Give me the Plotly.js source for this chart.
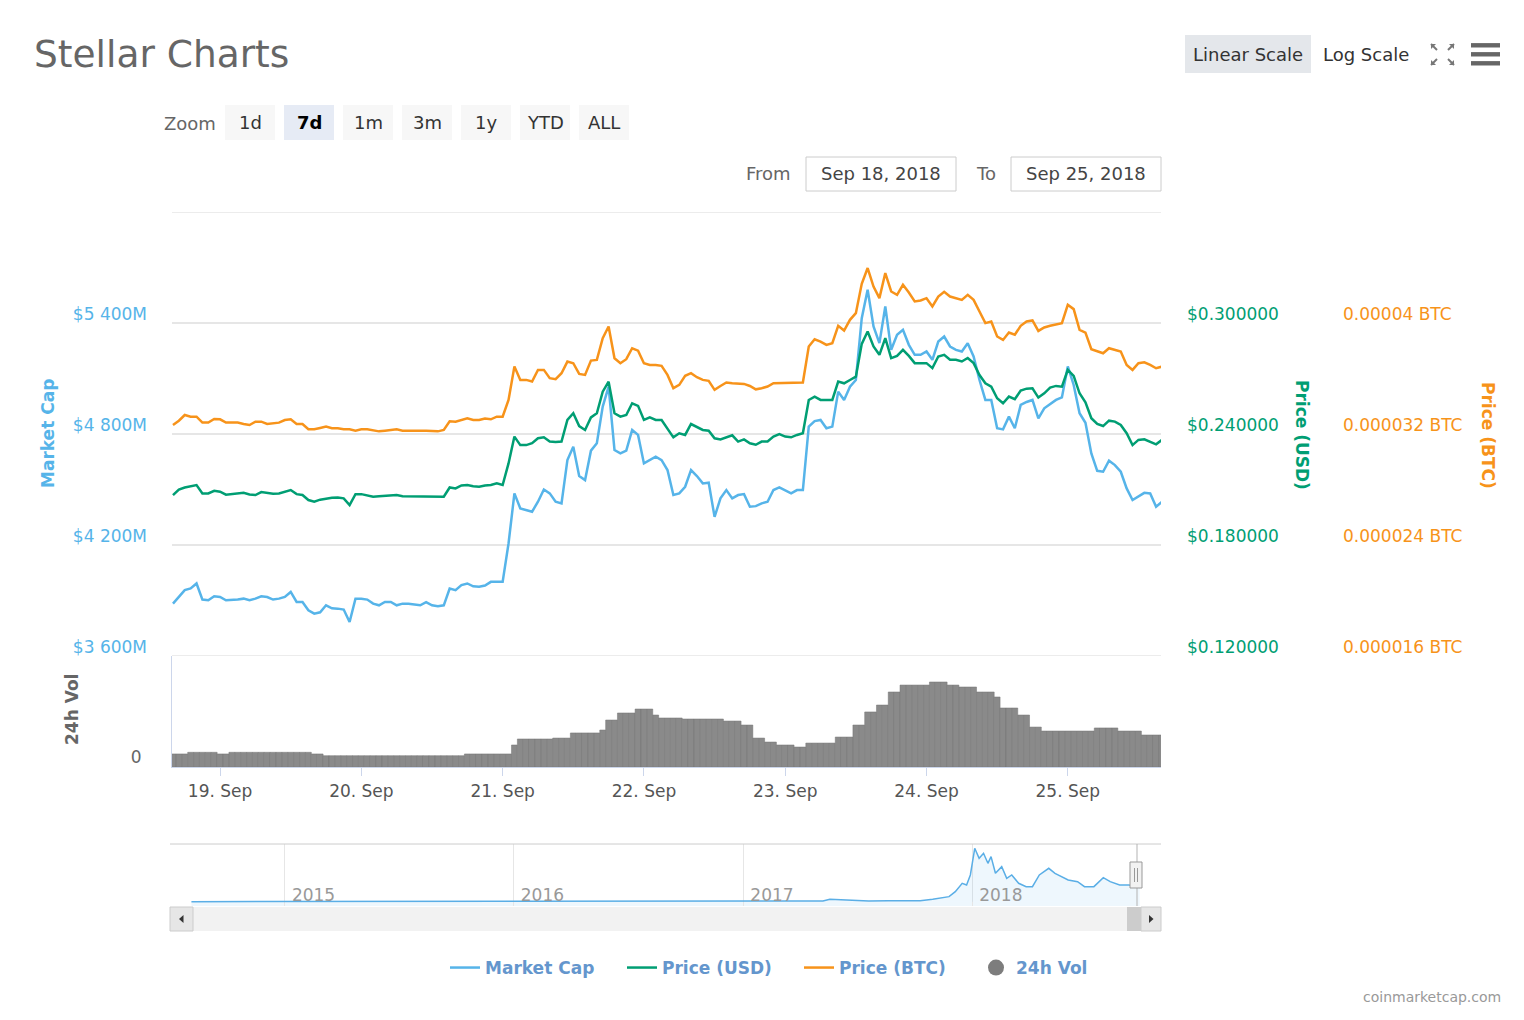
<!DOCTYPE html>
<html><head><meta charset="utf-8">
<script src="https://cdn.plot.ly/plotly-3.0.1.min.js"></script>
<style>html,body{margin:0;padding:0;background:#fff;}#chart{width:1524px;height:1020px;}</style>
</head><body><div id="chart"></div>
<script>
// ---------- data (hourly, starting Sep 18 2018 16:00) ----------
const startTimeUtc = Date.UTC(2018, 8, 18, 16, 0, 0);
const stepHours = 1;
const marketCapM = [3883, 3919, 3956, 3965, 3992, 3905, 3901, 3923, 3919, 3901,
 3901, 3905, 3910, 3901, 3910, 3923, 3919, 3905, 3910, 3919,
 3946, 3892, 3892, 3847, 3829, 3836, 3874, 3858, 3856, 3851,
 3784, 3910, 3910, 3905, 3883, 3874, 3892, 3892, 3874, 3883,
 3883, 3880, 3874, 3891, 3874, 3869, 3874, 3965, 3956, 3983,
 3992, 3977, 3974, 3981, 4001, 4001, 4001, 4208, 4479, 4398,
 4389, 4380, 4434, 4500, 4479, 4434, 4425, 4659, 4731, 4573,
 4551, 4710, 4750, 4948, 5056, 4713, 4695, 4710, 4822, 4795,
 4641, 4659, 4677, 4659, 4605, 4470, 4479, 4515, 4605, 4573,
 4533, 4537, 4352, 4452, 4497, 4452, 4470, 4475, 4407, 4410,
 4425, 4434, 4497, 4511, 4497, 4479, 4497, 4497, 4840, 4870,
 4876, 4831, 4840, 5029, 4984, 5056, 5092, 5426, 5580, 5381,
 5291, 5489, 5255, 5336, 5363, 5282, 5228, 5228, 5246, 5201,
 5300, 5327, 5273, 5255, 5246, 5291, 5219, 5092, 4984, 4984,
 4831, 4825, 4894, 4831, 4957, 4973, 4984, 4885, 4939, 4962,
 4984, 4998, 5165, 5065, 4912, 4861, 4695, 4601, 4596, 4656,
 4632, 4596, 4506, 4443, 4461, 4482, 4479, 4407, 4434];
const priceUsd = [0.2070, 0.2100, 0.2111, 0.2118, 0.2124, 0.2079, 0.2079, 0.2093, 0.2088, 0.2072,
 0.2075, 0.2075, 0.2082, 0.2073, 0.2070, 0.2086, 0.2082, 0.2077, 0.2079, 0.2086,
 0.2097, 0.2075, 0.2070, 0.2043, 0.2034, 0.2045, 0.2052, 0.2055, 0.2057, 0.2052,
 0.2016, 0.2075, 0.2075, 0.2070, 0.2061, 0.2063, 0.2064, 0.2068, 0.2070, 0.2064,
 0.2064, 0.2064, 0.2064, 0.2063, 0.2064, 0.2063, 0.2061, 0.2111, 0.2106, 0.2122,
 0.2124, 0.2118, 0.2115, 0.2122, 0.2124, 0.2133, 0.2124, 0.2241, 0.2386, 0.2340,
 0.2340, 0.2350, 0.2377, 0.2382, 0.2359, 0.2357, 0.2359, 0.2476, 0.2512, 0.2443,
 0.2422, 0.2490, 0.2512, 0.2629, 0.2683, 0.2512, 0.2494, 0.2503, 0.2566, 0.2552,
 0.2476, 0.2490, 0.2476, 0.2476, 0.2431, 0.2382, 0.2404, 0.2395, 0.2454, 0.2440,
 0.2422, 0.2418, 0.2377, 0.2371, 0.2382, 0.2393, 0.2359, 0.2371, 0.2350, 0.2342,
 0.2359, 0.2360, 0.2386, 0.2400, 0.2386, 0.2382, 0.2395, 0.2404, 0.2584, 0.2602,
 0.2584, 0.2584, 0.2584, 0.2683, 0.2674, 0.2692, 0.2710, 0.2887, 0.2954, 0.2873,
 0.2828, 0.2918, 0.2810, 0.2822, 0.2855, 0.2822, 0.2783, 0.2783, 0.2783, 0.2756,
 0.2819, 0.2828, 0.2801, 0.2801, 0.2792, 0.2811, 0.2783, 0.2719, 0.2674, 0.2656,
 0.2593, 0.2566, 0.2602, 0.2588, 0.2635, 0.2645, 0.2647, 0.2597, 0.2620, 0.2651,
 0.2660, 0.2656, 0.2747, 0.2714, 0.2620, 0.2571, 0.2485, 0.2454, 0.2443, 0.2472,
 0.2467, 0.2449, 0.2404, 0.2340, 0.2368, 0.2371, 0.2359, 0.2344, 0.2368];
const priceBtcMicro = [32.65, 32.96, 33.37, 33.25, 33.25, 32.82, 32.82, 33.08, 33.06, 32.82,
 32.82, 32.82, 32.72, 32.65, 32.89, 32.89, 32.72, 32.77, 32.82, 33.01,
 33.06, 32.72, 32.72, 32.34, 32.34, 32.43, 32.53, 32.41, 32.41, 32.34,
 32.34, 32.24, 32.34, 32.34, 32.29, 32.19, 32.24, 32.29, 32.34, 32.24,
 32.24, 32.29, 32.29, 32.24, 32.22, 32.19, 32.29, 32.91, 32.89, 33.01,
 33.13, 33.01, 33.01, 33.11, 33.06, 33.25, 33.25, 34.45, 36.86, 35.90,
 35.90, 35.78, 36.62, 36.62, 36.02, 35.95, 36.38, 37.22, 37.10, 36.33,
 36.26, 37.29, 37.34, 38.91, 39.75, 37.46, 37.10, 37.39, 38.18, 38.01,
 37.10, 36.98, 36.98, 36.91, 36.26, 35.30, 35.54, 36.19, 36.38, 36.09,
 35.90, 35.83, 35.18, 35.46, 35.71, 35.66, 35.66, 35.61, 35.46, 35.22,
 35.30, 35.42, 35.66, 35.66, 35.66, 35.71, 35.66, 35.71, 38.30, 38.83,
 38.66, 38.42, 38.54, 39.80, 39.46, 40.23, 40.71, 42.83, 43.96, 42.63,
 41.79, 43.60, 42.27, 42.03, 42.75, 42.20, 41.55, 41.62, 41.79, 41.19,
 41.91, 42.25, 41.91, 41.79, 41.67, 42.03, 41.67, 40.83, 39.99, 40.11,
 39.03, 38.78, 39.31, 39.15, 39.80, 40.11, 40.18, 39.43, 39.68, 39.80,
 39.87, 39.99, 41.31, 41.00, 39.51, 39.31, 38.11, 37.94, 37.82, 38.18,
 38.06, 37.94, 36.98, 36.62, 37.10, 37.17, 36.98, 36.74, 36.86];
const volume24hM = [14.1, 14.1, 14.1, 15.9, 15.9, 15.9, 15.9, 15.9, 14.1, 14.1,
 15.9, 15.9, 15.9, 15.9, 15.9, 15.9, 15.9, 15.9, 15.9, 15.9,
 15.9, 15.9, 15.9, 15.9, 14.1, 14.1, 12.2, 12.2, 12.2, 12.2,
 12.2, 12.2, 12.2, 12.2, 12.2, 12.2, 12.2, 12.2, 12.2, 12.2,
 12.2, 12.2, 12.2, 12.2, 12.2, 12.2, 12.2, 12.2, 12.2, 12.2,
 14.1, 14.1, 14.1, 14.1, 14.1, 14.1, 14.1, 14.1, 23.8, 30.3,
 30.3, 30.3, 30.3, 30.3, 30.3, 31.3, 31.3, 31.3, 36.8, 36.8,
 36.8, 36.8, 36.8, 40.0, 50.8, 50.8, 58.4, 58.4, 58.4, 62.7,
 62.7, 62.7, 56.2, 53.0, 53.0, 53.0, 53.0, 51.9, 51.9, 51.9,
 51.9, 51.9, 51.9, 51.9, 49.7, 49.7, 49.7, 45.4, 45.4, 31.3,
 31.3, 27.0, 27.0, 23.8, 23.8, 23.8, 21.6, 21.6, 25.9, 25.9,
 25.9, 25.9, 25.9, 32.4, 32.4, 32.4, 45.4, 45.4, 59.5, 59.5,
 67.0, 67.0, 81.1, 81.1, 88.6, 88.6, 88.6, 88.6, 88.6, 91.9,
 91.9, 91.9, 88.6, 88.6, 86.5, 86.5, 86.5, 81.1, 81.1, 81.1,
 75.7, 63.8, 63.8, 63.8, 56.2, 56.2, 43.2, 43.2, 38.9, 38.9,
 38.9, 38.9, 38.9, 38.9, 38.9, 38.9, 38.9, 42.2, 42.2, 42.2,
 42.2, 38.9, 38.9, 38.9, 38.9, 34.6, 34.6, 34.6, 34.6];
const navDates = ['2014-08-05','2014-12-01','2015-06-01','2015-12-01','2016-06-01','2016-12-01',
 '2017-03-01','2017-04-01','2017-05-08','2017-05-19','2017-06-09','2017-07-20','2017-08-20',
 '2017-10-10','2017-10-30','2017-11-25','2017-12-05','2017-12-16','2017-12-23','2017-12-29',
 '2018-01-05','2018-01-12','2018-01-19','2018-01-26','2018-01-31','2018-02-07','2018-02-17',
 '2018-02-25','2018-03-05','2018-03-16','2018-03-28','2018-04-07','2018-04-18','2018-05-03',
 '2018-05-13','2018-05-24','2018-06-03','2018-06-18','2018-06-29','2018-07-14','2018-07-29',
 '2018-08-09','2018-08-24','2018-09-08','2018-09-25'];
const navMarketCapM = [2, 15, 20, 10, 12, 15,
 20, 60, 200, 737, 529, 218, 320,
 321, 737, 1565, 3119, 5711, 5192, 8301,
 16592, 13483, 15038, 11929, 14000, 8820, 10891,
 7266, 8301, 5711, 4673, 4673, 8301, 10375,
 8820, 7782, 6747, 6227, 4673, 4673, 7471,
 6227, 5192, 5192, 4434];
const mcTicks = [3600, 4200, 4800, 5400, 6000];
const usdTicks = [0.12, 0.18, 0.24, 0.30];
const btcTicks = [0.000016, 0.000024, 0.000032, 0.00004];
const zoomButtons = ['1d', '7d', '1m', '3m', '1y', 'YTD', 'ALL'];
const selectedZoom = '7d';
const fromDate = 'Sep 18, 2018';
const toDate = 'Sep 25, 2018';

// ---------- helpers ----------
const W = 1524, H = 1020;
const px = x => x / W;
const py = y => 1 - y / H;
const FONT = 'DejaVu Sans';
const C_MC = '#56b4e9', C_USD = '#009e73', C_BTC = '#f7931a', C_VOL = '#7d7d7d';

const times = marketCapM.map((_, i) =>
  new Date(startTimeUtc + i * stepHours * 3600e3).toISOString().slice(0, 19).replace('T', ' '));
const priceBtc = priceBtcMicro.map(v => v * 1e-6);

const mcLo = mcTicks[0], mcHi = mcTicks[mcTicks.length - 1];
const fmtMc = v => v === mcHi ? '' : '$' + String(v).replace(/\B(?=(\d{3})+(?!\d))/g, ' ') + 'M';
const fmtUsd = v => '$' + v.toFixed(6);
const fmtBtc = v => v.toFixed(6).replace(/0+$/, '') + ' BTC';

function pathPx(cmds) {
  return cmds.map(c => c.length === 1 ? c[0] : c[0] + px(c[1]).toFixed(5) + ',' + py(c[2]).toFixed(5)).join(' ');
}
function rectPx(x0, y0, x1, y1, opts) {
  return Object.assign({type: 'rect', xref: 'paper', yref: 'paper',
    x0: px(x0), x1: px(x1), y0: py(y1), y1: py(y0), line: {width: 0}}, opts || {});
}
function linePx(x0, y0, x1, y1, color, width) {
  return {type: 'line', xref: 'paper', yref: 'paper', x0: px(x0), x1: px(x1), y0: py(y0), y1: py(y1),
    line: {color: color, width: width || 1}};
}
function textPx(text, x, y, opts) {
  return Object.assign({text: text, xref: 'paper', yref: 'paper', x: px(x), y: py(y),
    xanchor: 'center', yanchor: 'middle', showarrow: false,
    font: {family: FONT, size: 18, color: '#666'}}, opts || {});
}

// ---------- traces ----------
const traces = [
  {type: 'bar', x: times, y: volume24hM, xaxis: 'x', yaxis: 'y4', name: '24h Vol',
   marker: {color: '#8a8a8a', line: {color: '#747474', width: 0.5}}, showlegend: false},
  {type: 'scatter', mode: 'lines', x: times, y: marketCapM, xaxis: 'x', yaxis: 'y', name: 'Market Cap',
   line: {color: C_MC, width: 2.5}},
  {type: 'scatter', mode: 'lines', x: times, y: priceUsd, xaxis: 'x', yaxis: 'y2', name: 'Price (USD)',
   line: {color: C_USD, width: 2.5}},
  {type: 'scatter', mode: 'lines', x: times, y: priceBtc, xaxis: 'x', yaxis: 'y3', name: 'Price (BTC)',
   line: {color: C_BTC, width: 2.5}},
  {type: 'scatter', mode: 'markers', x: [null], y: [null], xaxis: 'x', yaxis: 'y4', name: '24h Vol',
   marker: {color: C_VOL, size: 17, symbol: 'circle'}},
  {type: 'scatter', mode: 'lines', x: navDates, y: navMarketCapM, xaxis: 'x2', yaxis: 'y5',
   name: 'Navigator', showlegend: false, fill: 'tozeroy', fillcolor: 'rgba(86,180,233,0.10)',
   line: {color: '#5aaee6', width: 1.5}}
];

// ---------- shapes ----------
const xDom = [px(172), px(1161)];
const shapes = [];
// edge gridlines of the main pane (top/bottom ticks)
[mcLo, mcHi].forEach(v => shapes.push({type: 'line', xref: 'paper', yref: 'y', x0: xDom[0], x1: xDom[1],
  y0: v, y1: v, line: {color: '#e6e6e6', width: 1.5}, layer: 'below'}));
zoomButtons.forEach((b, i) => {
  shapes.push(rectPx(225 + 59 * i, 105, 275 + 59 * i, 140,
    {fillcolor: b === selectedZoom ? '#e6ebf5' : '#f7f7f7'}));
});
shapes.push(rectPx(806, 157, 956, 191, {fillcolor: '#fff', line: {color: '#cccccc', width: 1}}));
shapes.push(rectPx(1011, 157, 1161, 191, {fillcolor: '#fff', line: {color: '#cccccc', width: 1}}));
shapes.push(rectPx(1185, 35, 1311, 73, {fillcolor: '#e4e7eb'}));
const fsCol = '#777';
[[1431, 44, 1, 1], [1454, 44, -1, 1], [1431, 65, 1, -1], [1454, 65, -1, -1]].forEach(([cx, cy, dx, dy]) => {
  shapes.push({type: 'path', xref: 'paper', yref: 'paper', line: {color: fsCol, width: 2},
    path: pathPx([['M', cx + 6 * dx, cy + 6 * dy], ['L', cx, cy]])});
  shapes.push({type: 'path', xref: 'paper', yref: 'paper', line: {width: 0}, fillcolor: fsCol,
    path: pathPx([['M', cx, cy], ['L', cx + 5 * dx, cy], ['L', cx, cy + 5 * dy], ['Z']])});
});
[45.3, 54.3, 63.3].forEach(y => shapes.push(rectPx(1471, y - 2.2, 1500, y + 2.2, {fillcolor: '#666'})));
shapes.push({type: 'rect', xref: 'x2', yref: 'y5', x0: navDates[0], x1: navDates[navDates.length - 1],
  y0: -1340, y1: 0, fillcolor: 'rgba(86,180,233,0.10)', line: {width: 0}, layer: 'below'});
shapes.push(linePx(170, 844, 1161, 844, '#cccccc', 1));
shapes.push(linePx(1137, 844, 1137, 906, '#b3b3b3', 1));
shapes.push(rectPx(1130, 862, 1142, 888, {fillcolor: '#f2f2f2', line: {color: '#999', width: 1}}));
shapes.push(linePx(1134.5, 868, 1134.5, 882, '#999', 1));
shapes.push(linePx(1137.5, 868, 1137.5, 882, '#999', 1));
shapes.push(rectPx(170, 907, 1161, 931, {fillcolor: '#f2f2f2'}));
shapes.push(rectPx(1127, 907, 1141, 931, {fillcolor: '#cccccc'}));
shapes.push(rectPx(170, 907, 193, 931, {fillcolor: '#e6e6e6', line: {color: '#cccccc', width: 1}}));
shapes.push(rectPx(1141, 907, 1161, 931, {fillcolor: '#e6e6e6', line: {color: '#cccccc', width: 1}}));
shapes.push({type: 'path', xref: 'paper', yref: 'paper', fillcolor: '#333', line: {width: 0},
  path: pathPx([['M', 183.5, 915], ['L', 183.5, 923], ['L', 179, 919], ['Z']])});
shapes.push({type: 'path', xref: 'paper', yref: 'paper', fillcolor: '#333', line: {width: 0},
  path: pathPx([['M', 1149, 915], ['L', 1149, 923], ['L', 1153.5, 919], ['Z']])});

// ---------- annotations ----------
const annotations = [];
annotations.push(textPx('Stellar Charts', 32, 54, {xanchor: 'left', font: {family: FONT, size: 37.5, color: '#666'}}));
annotations.push(textPx('Zoom', 190, 123, {font: {family: FONT, size: 18, color: '#666'}}));
zoomButtons.forEach((b, i) => {
  annotations.push(textPx(b === selectedZoom ? '<b>' + b + '</b>' : b, 250 + 59 * i, 122,
    {font: {family: FONT, size: 18, color: b === selectedZoom ? '#000' : '#333'}}));
});
annotations.push(textPx('From', 769, 173, {font: {family: FONT, size: 18, color: '#666'}}));
annotations.push(textPx(fromDate, 881, 173, {font: {family: FONT, size: 18, color: '#444'}}));
annotations.push(textPx('To', 986, 173, {font: {family: FONT, size: 18, color: '#666'}}));
annotations.push(textPx(toDate, 1086, 173, {font: {family: FONT, size: 18, color: '#444'}}));
annotations.push(textPx('Linear Scale', 1248, 54, {font: {family: FONT, size: 18, color: '#333'}}));
annotations.push(textPx('Log Scale', 1366, 54, {font: {family: FONT, size: 18, color: '#333'}}));
annotations.push(textPx('<b>Market Cap</b>', 48, 434, {textangle: -90, font: {family: FONT, size: 17, color: C_MC}}));
annotations.push(textPx('<b>24h Vol</b>', 72, 710, {textangle: -90, font: {family: FONT, size: 17, color: '#666'}}));
annotations.push(textPx('<b>Price (USD)</b>', 1302, 435, {textangle: 90, font: {family: FONT, size: 17, color: C_USD}}));
annotations.push(textPx('<b>Price (BTC)</b>', 1488, 435, {textangle: 90, font: {family: FONT, size: 17, color: C_BTC}}));
annotations.push(textPx('coinmarketcap.com', 1503, 997, {xanchor: 'right', font: {family: FONT, size: 14, color: '#999'}}));

// ---------- layout ----------
const mainDom = [py(656), py(212)];
const layout = {
  width: W, height: H, autosize: false,
  margin: {l: 0, r: 0, t: 0, b: 0, pad: 0},
  paper_bgcolor: '#fff', plot_bgcolor: 'rgba(0,0,0,0)',
  font: {family: FONT, size: 17, color: '#666'},
  hovermode: false,
  bargap: 0,
  showlegend: true,
  legend: {orientation: 'h', x: px(445), xanchor: 'left', y: py(968), yanchor: 'middle',
    entrywidth: 132, entrywidthmode: 'pixels',
    font: {family: FONT, size: 17, color: '#6496cd', weight: 'bold'}, bgcolor: 'rgba(0,0,0,0)', itemwidth: 30},
  xaxis: {domain: xDom, anchor: 'y4', type: 'date',
    range: ['2018-09-18 15:50', '2018-09-25 15:50'], tick0: '2018-09-19', dtick: 86400000,
    tickformat: '%-d. %b', ticks: 'outside', ticklen: 8, tickcolor: '#ccd6eb',
    showline: true, linecolor: '#ccd6eb', showgrid: false, zeroline: false,
    tickfont: {family: FONT, size: 17, color: '#555'}, ticklabelstandoff: 1},
  yaxis: {domain: mainDom, anchor: 'x', range: [mcLo, mcHi],
    tickmode: 'array', tickvals: mcTicks, ticktext: mcTicks.map(fmtMc),
    showgrid: true, gridcolor: '#e6e6e6', gridwidth: 1.5, zeroline: false, showline: false,
    tickfont: {family: FONT, size: 17, color: C_MC}, ticklabelshift: -9, ticklabelstandoff: 24},
  yaxis2: {domain: mainDom, overlaying: 'y', anchor: 'free', position: px(1161), side: 'right',
    range: [0.12, 0.36], tickmode: 'array', tickvals: usdTicks, ticktext: usdTicks.map(fmtUsd),
    showgrid: false, zeroline: false, showline: false,
    tickfont: {family: FONT, size: 17, color: C_USD}, ticklabelshift: -9, ticklabelstandoff: 25},
  yaxis3: {domain: mainDom, overlaying: 'y', anchor: 'free', position: px(1318), side: 'right',
    range: [0.000016, 0.000048], tickmode: 'array', tickvals: btcTicks, ticktext: btcTicks.map(fmtBtc),
    showgrid: false, zeroline: false, showline: false,
    tickfont: {family: FONT, size: 17, color: C_BTC}, ticklabelshift: -9, ticklabelstandoff: 24},
  yaxis4: {domain: [py(767), py(656)], anchor: 'x', range: [0, 120],
    tickmode: 'array', tickvals: [0], ticktext: ['0'], showgrid: false, zeroline: false,
    showline: true, linecolor: '#ccd6eb',
    tickfont: {family: FONT, size: 17, color: '#666'}, ticklabelshift: -10, ticklabelstandoff: 26},
  xaxis2: {domain: xDom, anchor: 'y5', type: 'date', range: ['2014-07-05', '2018-10-29'],
    tick0: '2015-01-01', dtick: 'M12', tickformat: '%Y', ticklabelposition: 'inside right',
    ticklabelshift: 7, ticklabelstandoff: -4,
    showgrid: true, gridcolor: '#e6e6e6', ticks: '', showline: false, zeroline: false,
    tickfont: {family: FONT, size: 17, color: '#999'}},
  yaxis5: {domain: [py(906), py(844)], anchor: 'x2', range: [-1340, 17930],
    showticklabels: false, showgrid: false, zeroline: false, showline: false},
  shapes: shapes,
  annotations: annotations
};

Plotly.newPlot('chart', traces, layout, {staticPlot: true, displayModeBar: false});
</script>
</body></html>
